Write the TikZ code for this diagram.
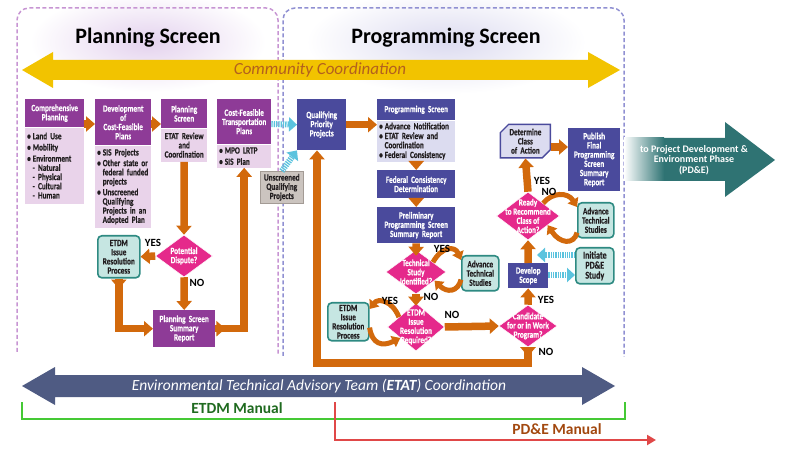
\documentclass[tikz,border=0pt]{standalone}
\usepackage{fontspec}
\setmainfont{Carlito}
\newfontfamily\condsans[FakeStretch=0.76, BoldFeatures={FakeBold=0.4}]{Carlito}
\usepackage{xcolor}
\usetikzlibrary{arrows.meta,shapes.geometric,shapes.misc}

\definecolor{plnHead}{HTML}{8E3B97}
\definecolor{plnBody}{HTML}{E9D3EA}
\definecolor{prgHead}{HTML}{4A4A9C}
\definecolor{prgBody}{HTML}{DCDCF0}
\definecolor{flowOrange}{HTML}{D2690C}
\definecolor{decPink}{HTML}{E5298B}
\definecolor{tealFill}{HTML}{C6E6E2}
\definecolor{tealEdge}{HTML}{2E8A82}
\definecolor{greyFill}{HTML}{CBC4BF}
\definecolor{greyEdge}{HTML}{A39B95}
\definecolor{feedCyan}{HTML}{5BC3DE}
\definecolor{commYellow}{HTML}{F2C300}
\definecolor{commText}{HTML}{B3601E}
\definecolor{pdeTeal}{HTML}{2F7373}
\definecolor{etatSlate}{HTML}{4F5B83}
\definecolor{manGreen}{HTML}{45C935}
\definecolor{manGreenText}{HTML}{1F6A1F}
\definecolor{manRed}{HTML}{E04848}
\definecolor{manRedText}{HTML}{A2480F}
\definecolor{plnDash}{HTML}{C795D3}
\definecolor{prgDash}{HTML}{9090D2}
\definecolor{plnGlow}{HTML}{E4D2EE}
\definecolor{prgGlow}{HTML}{DCDBF0}
\definecolor{inkDark}{HTML}{221E20}

\newcommand{\boxfont}{\fontsize{9.5}{9.2}\selectfont\condsans\bfseries}
\newcommand{\bitem}{\textbullet\hspace{2pt}}
\newcommand{\bind}{\hspace*{5.5pt}}

\tikzset{
  hdpln/.style={anchor=north west, fill=plnHead, text=white, font=\boxfont,
    align=center, inner xsep=2pt, inner ysep=1pt},
  bdpln/.style={anchor=north west, fill=plnBody, text=inkDark, font=\boxfont,
    align=left, inner xsep=2pt, inner ysep=1pt},
  hdprg/.style={hdpln, fill=prgHead},
  bdprg/.style={bdpln, fill=prgBody},
  teal box/.style={anchor=north west, fill=tealFill, draw=tealEdge, line width=1.6pt,
    rounded corners=4pt, text=inkDark, font=\boxfont, align=center, inner xsep=1pt, inner ysep=1pt},
  grey box/.style={anchor=north west, fill=greyFill, draw=greyEdge, line width=0.6pt,
    text=inkDark, font=\boxfont, align=center, inner xsep=1pt, inner ysep=1pt},
  decision/.style={diamond, fill=decPink, draw=white, line width=0.5pt, inner sep=0pt},
  dtxt/.style={text=white, font=\boxfont, align=center, inner sep=0pt},
  flow/.style={draw=flowOrange, line width=7.5pt, -{Triangle[length=9pt,width=15pt]}},
  cycleflow/.style={draw=flowOrange, line width=5pt, -{Triangle[length=8pt,width=12pt]}},
  feed/.style={draw=feedCyan, line width=6pt, dash pattern=on 1.3pt off 1pt,
    -{Triangle[length=8pt,width=14pt]}},
  yn/.style={font=\fontsize{11}{11}\selectfont\bfseries, inner sep=0pt}
}

\begin{document}
\begin{tikzpicture}[x=1pt,y=-1pt]
  \useasboundingbox (0,0) rectangle (790,470);

  % screens and banner
  \shade[inner color=plnGlow, outer color=white] (148,42) ellipse (118pt and 50pt);
  \shade[inner color=prgGlow, outer color=white] (446,42) ellipse (140pt and 52pt);
  \draw[plnDash, line width=1.5pt, dash pattern=on 4pt off 2.5pt, rounded corners=12pt]
    (17,352) -- (17,8) -- (278,8) -- (278,354);
  \draw[prgDash, line width=1.5pt, dash pattern=on 4pt off 2.5pt, rounded corners=12pt]
    (283,356) -- (283,8) -- (624,8) -- (624,357);

  \node[font=\fontsize{22}{24}\selectfont\bfseries] (plntitle) at (148,38) {Planning Screen};
  \node[font=\fontsize{22}{24}\selectfont\bfseries] (prgtitle) at (446,38) {Programming Screen};

  \fill[commYellow] (22,70) -- (53,52) -- (53,60) -- (588,60) -- (588,52) -- (620,70)
    -- (588,88) -- (588,80) -- (53,80) -- (53,88) -- cycle;
  \node[text=commText, font=\fontsize{17}{18}\selectfont\itshape] (commtxt) at (320,70) {Community Coordination};

  \coordinate (lvtop) at (0,124);
  \coordinate (lvdca) at (0,147);
  \coordinate (lvup) at (0,255);
  \coordinate (lvdn) at (0,275);
  \coordinate (scopeup) at (537,255);
  \coordinate (loopc) at (317,363);

  % planning screen
  \node[hdpln, text width=55pt, minimum height=28pt] (comph) at (25,99) {Comprehensive\\Planning};
  \node[bdpln, text width=55pt, minimum height=76pt] (compb) at (comph.south west)
    {\bitem Land Use\\[2pt]\bitem Mobility\\[2pt]\bitem Environment\\\bind- Natural\\\bind- Physical\\\bind- Cultural\\\bind- Human};
  \node[hdpln, text width=52pt, minimum height=46pt] (devh) at (95,99) {Development\\of\\Cost-Feasible\\Plans};
  \node[bdpln, text width=52pt, minimum height=82pt] (devb) at (devh.south west)
    {\bitem SIS Projects\\[1.5pt]\bitem Other state or\\\bind federal funded\\\bind projects\\[1.5pt]\bitem Unscreened\\\bind Qualifying\\\bind Projects in an\\\bind Adopted Plan};
  \node[hdpln, text width=42pt, minimum height=29pt] (psh) at (161,99) {Planning\\Screen};
  \node[bdpln, align=center, text width=42pt, minimum height=33pt] (psb) at (psh.south west) {ETAT Review\\and\\Coordination};
  \node[hdpln, text width=50pt, minimum height=45pt] (cfh) at (217,99) {Cost-Feasible\\Transportation\\Plans};
  \node[bdpln, text width=50pt, minimum height=23pt] (cfb) at (cfh.south west) {\bitem MPO LRTP\\[2pt]\bitem SIS Plan};

  \node[decision, minimum width=57pt, minimum height=42pt,
    label={[dtxt]center:Potential\\Dispute?}] (pot) at (184,256) {};
  \node[teal box, text width=40pt, minimum height=42pt] (etdm1) at (97,235) {ETDM\\Issue\\Resolution\\Process};
  \node[hdpln, text width=58pt, minimum height=37pt] (psr) at (153,310) {Planning Screen\\Summary\\Report};
  \node[grey box, text width=41pt, minimum height=32pt] (unscr) at (260,171) {Unscreened\\Qualifying\\Projects};

  % programming screen
  \node[hdprg, text width=45pt, minimum height=51pt] (qpp) at (297,99) {Qualifying\\Priority\\Projects};
  \node[hdprg, text width=74pt, minimum height=21pt] (prh) at (377,99) {Programming Screen};
  \node[bdprg, text width=74pt, minimum height=41pt] (prb) at (prh.south west)
    {\bitem Advance Notification\\[0.5pt]\bitem ETAT Review and\\\bind Coordination\\[0.5pt]\bitem Federal Consistency};
  \node[hdprg, text width=74pt, minimum height=28pt] (fcd) at (377,170) {Federal Consistency\\Determination};
  \node[hdprg, text width=74pt, minimum height=36pt] (pre) at (377,207) {Preliminary\\Programming Screen\\Summary Report};

  \node[decision, minimum width=60pt, minimum height=44pt,
    label={[dtxt]center:Technical\\Study\\Identified?}] (tech) at (416,272) {};
  \node[teal box, text width=35pt, minimum height=35pt] (ats1) at (461,255) {Advance\\Technical\\Studies};
  \node[decision, minimum width=57pt, minimum height=48pt,
    label={[dtxt]center:ETDM\\Issue\\Resolution\\Required?}] (eirr) at (416,327) {};
  \node[teal box, text width=39pt, minimum height=38pt] (etdm2) at (327,302) {ETDM\\Issue\\Resolution\\Process};
  \node[decision, minimum width=58pt, minimum height=42pt,
    label={[dtxt]center:Candidate\\for or in Work\\Program?}] (cand) at (528,326) {};
  \node[hdprg, text width=36pt, minimum height=25pt] (dev) at (508,263) {Develop\\Scope};
  \node[teal box, text width=36pt, minimum height=36pt, font=\fontsize{10.5}{10}\selectfont\condsans\bfseries] (init) at (575,247) {Initiate\\PD\&E\\Study};
  \node[decision, minimum width=63pt, minimum height=48pt,
    label={[dtxt]center:Ready\\to Recommend\\Class of\\Action?}] (ready) at (528,216) {};
  \node[teal box, text width=34pt, minimum height=35pt] (ats2) at (577,202) {Advance\\Technical\\Studies};
  \node[chamfered rectangle, chamfered rectangle corners={north west,south east},
    chamfered rectangle xsep=5pt, anchor=north west, fill=prgBody, draw=prgHead, line width=1.4pt,
    text=inkDark, font=\boxfont, align=center, text width=38pt, minimum height=32pt, inner sep=1pt]
    (dca) at (504,128) {Determine\\Class\\of Action};
  \node[hdprg, text width=48pt, minimum height=63pt] (pub) at (568,128) {Publish\\Final\\Programming\\Screen\\Summary\\Report};

  % phase arrow
  \fill[pdeTeal] (625,138) -- (725,138) -- (725,122) -- (775,160) -- (725,197) -- (725,181)
    -- (625,181) -- cycle;
  \shade[left color=white, right color=pdeTeal] (624,138) rectangle (664,181);
  \node[text=white, font=\fontsize{10}{10.5}\selectfont\bfseries, align=center] (pdetxt) at (694,160)
    {to Project Development \&\\Environment Phase\\(PD\&E)};

  % connectors, planning screen
  \draw[flow] (comph.east |- lvtop) -- (devh.west |- lvtop);
  \draw[flow] (devh.east |- lvtop) -- (psh.west |- lvtop);
  \draw[flow] (psb.south) -- (pot.north);
  \draw[flow] (pot.west) -- (etdm1.east);
  \draw[flow] (pot.south) -- (psr.north);
  \draw[flow] (etdm1.south) |- (psr.west);
  \draw[flow] (etdm1.south) -- ++(0,10);
  \draw[flow] (psr.east) -| (cfb.south);
  \draw[flow] (psr.east) -- ++(10,0);
  \draw[feed] (cfh.east |- lvtop) -- (qpp.west);
  \draw[feed] (unscr.north) -- (qpp.south west);

  \node[yn] (potyes) at (153,243) {YES};
  \node[yn] (potno) at (197,283) {NO};

  % connectors, programming screen
  \draw[flow] (qpp.east) -- (qpp.east -| prb.west);
  \draw[flow] (prb.south) -- (fcd.north);
  \draw[flow] (fcd.south) -- (pre.north);
  \draw[flow] (pre.south) -- ([yshift=-6pt]tech.north);
  \draw[flow] (tech.south) -- ([yshift=-3pt]eirr.north);
  \draw[flow] (eirr.east) -- (cand.west);
  \draw[flow] (cand.north) -- (dev.south);
  \draw[flow] (dev.north) -- (ready.south);
  \draw[flow] (ready.north) -- (dca.south);
  \draw[flow] (dca.east |- lvdca) -- (pub.west |- lvdca);
  \draw[flow] (cand.south) |- (loopc) -- (loopc |- qpp.south);
  \draw[flow] (cand.south) -- ++(0,9);

  \draw[cycleflow] (tech.30) .. controls (442,246) and (455,246) .. ([yshift=-5pt]ats1.north west);
  \draw[cycleflow] ([yshift=12pt]ats1.south west) .. controls (458,292) and (447,293) .. (tech.-25);
  \draw[cycleflow] (eirr.150) .. controls (392,300) and (378,298) .. ([yshift=-7pt]etdm2.north east);
  \draw[cycleflow] ([yshift=14pt]etdm2.south east) .. controls (372,344) and (382,347) .. (eirr.215);
  \draw[cycleflow] (ready.40) .. controls (552,192) and (568,192) .. ([yshift=-5pt]ats2.north west);
  \draw[cycleflow] ([yshift=6pt]ats2.south west) .. controls (574,245) and (560,244) .. (ready.-25);

  \draw[feed] (init.west |- lvup) -- (scopeup);
  \draw[feed] (dev.east |- lvdn) -- (init.west |- lvdn);

  \node[yn] (techyes) at (442,249) {YES};
  \node[yn] (techno) at (431,297) {NO};
  \node[yn] (eirryes) at (390,301) {YES};
  \node[yn] (eirrno) at (452,315) {NO};
  \node[yn] (candyes) at (546,300) {YES};
  \node[yn] (candno) at (546,352) {NO};
  \node[yn] (readyyes) at (542,181) {YES};
  \node[yn] (readyno) at (549,192) {NO};

  % coordination and manuals
  \fill[etatSlate] (22,386) -- (55,367) -- (55,375) -- (582,375) -- (582,367) -- (615,386)
    -- (582,405) -- (582,397) -- (55,397) -- (55,405) -- cycle;
  \node[text=white, font=\fontsize{15.5}{16}\selectfont\itshape] (etattxt) at (319,386)
    {Environmental Technical Advisory Team (\textbf{ETAT}) Coordination};

  \draw[manGreen, line width=2pt] (22,402) -- (22,419) -- (625,419) -- (625,402);
  \node[text=manGreenText, font=\fontsize{15.5}{16}\selectfont\bfseries] (etdmman) at (237,408) {ETDM Manual};
  \draw[manRed, line width=2pt, -{Triangle[length=9pt,width=10pt]}] (335,402) -- (335,440) -- (656,440);
  \node[text=manRedText, font=\fontsize{15.5}{16}\selectfont\bfseries] (pdeman) at (557,429) {PD\&E Manual};
\end{tikzpicture}
\end{document}
